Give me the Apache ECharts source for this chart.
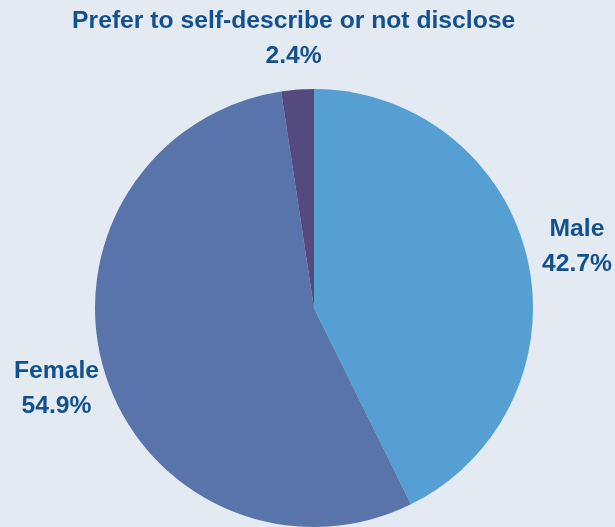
<!DOCTYPE html>
<html>
<head>
<meta charset="utf-8">
<script src="https://cdn.jsdelivr.net/npm/echarts@6/dist/echarts.min.js"></script>
<style>
html,body{margin:0;padding:0;background:#e3eaf2;}
#c{width:615px;height:527px;}
</style>
</head>
<body>
<div id="c"></div>
<script>
var categories = ['Male', 'Female', 'Prefer to self-describe or not disclose'];
var values = [42.7, 54.9, 2.4];
var colors = ['#559fd2', '#5974aa', '#544a7d'];

var data = categories.map(function (c, i) {
  return { name: c, value: values[i], itemStyle: { color: colors[i] } };
});
var labelData = categories.map(function (c, i) {
  return { name: c, value: values[i], itemStyle: { color: 'rgba(0,0,0,0)' } };
});

var chart = echarts.init(document.getElementById('c'));
chart.setOption({
  backgroundColor: '#e3eaf2',
  animation: false,
  series: [{
    type: 'pie',
    center: [314, 308],
    radius: 219,
    startAngle: 90,
    clockwise: true,
    data: data,
    label: { show: false },
    labelLine: { show: false },
    emphasis: { disabled: true }
  }, {
    type: 'pie',
    silent: true,
    center: [314, 308],
    radius: [256, 278],
    startAngle: 90,
    clockwise: true,
    data: labelData,
    label: {
      show: true,
      position: 'inside',
      overflow: 'none',
      formatter: function (p) { return p.name + '\n' + p.value.toFixed(1) + '%'; },
      fontFamily: 'Liberation Sans, Arial, sans-serif',
      fontWeight: 'bold',
      fontSize: 24.7,
      lineHeight: 35,
      color: '#13508e',
      textBorderWidth: 0
    },
    labelLine: { show: false },
    emphasis: { disabled: true }
  }]
});
</script>
</body>
</html>
